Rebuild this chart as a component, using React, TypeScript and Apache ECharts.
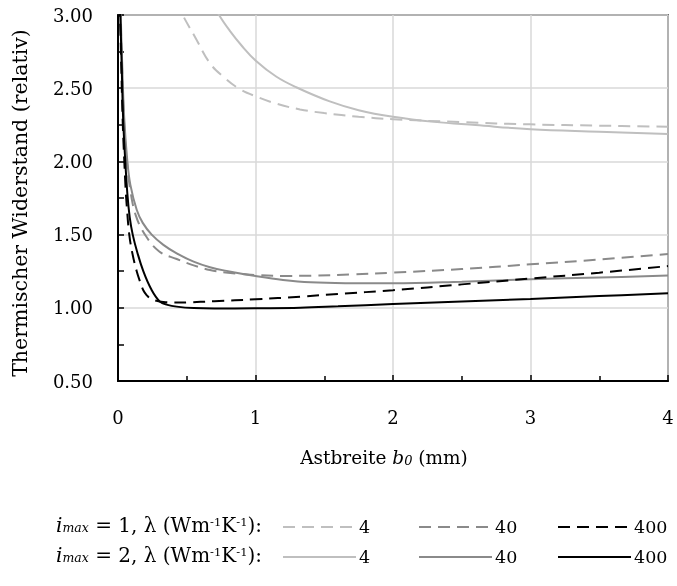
import React, { useEffect, useRef } from "react";
import * as echarts from "echarts";

const FONT = "DejaVu Serif";

// i_max = 1 (dashed)
const i1Lambda4: [number, number][] = [[0.42,3.1],[0.47,3.0],[0.56,2.85],[0.669,2.67],[0.77,2.575],[0.875,2.5],[1.0,2.445],[1.15,2.395],[1.324,2.355],[1.5,2.33],[1.75,2.305],[2.0,2.288],[2.5,2.268],[3.0,2.253],[3.5,2.244],[4.0,2.237]];
const i1Lambda40: [number, number][] = [[0.015,3.2],[0.02,2.95],[0.03,2.62],[0.045,2.25],[0.065,2.0],[0.09,1.8],[0.13,1.63],[0.196,1.5],[0.3,1.385],[0.427,1.333],[0.55,1.29],[0.669,1.258],[0.8,1.24],[1.0,1.224],[1.2,1.218],[1.4,1.219],[1.7,1.228],[2.0,1.24],[2.5,1.265],[3.0,1.297],[3.5,1.33],[4.0,1.367]];
const i1Lambda400: [number, number][] = [[0.01,3.2],[0.015,3.0],[0.025,2.6],[0.035,2.25],[0.045,2.02],[0.055,1.82],[0.065,1.68],[0.082,1.5],[0.105,1.37],[0.136,1.25],[0.16,1.18],[0.184,1.12],[0.21,1.085],[0.233,1.065],[0.28,1.048],[0.33,1.04],[0.4,1.036],[0.5,1.037],[0.7,1.045],[1.0,1.058],[1.324,1.076],[1.6,1.095],[2.0,1.12],[2.5,1.16],[3.0,1.2],[3.5,1.24],[4.0,1.285]];

// i_max = 2 (solid)
const i2Lambda4: [number, number][] = [[0.70,3.07],[0.735,3.0],[0.815,2.89],[0.9,2.79],[1.0,2.69],[1.15,2.58],[1.3,2.505],[1.54,2.41],[1.75,2.35],[2.0,2.305],[2.3,2.27],[2.6,2.248],[3.0,2.22],[3.5,2.203],[4.0,2.187]];
const i2Lambda40: [number, number][] = [[0.015,3.25],[0.02,3.0],[0.03,2.68],[0.045,2.3],[0.068,2.0],[0.09,1.84],[0.136,1.67],[0.18,1.58],[0.245,1.5],[0.33,1.43],[0.427,1.372],[0.55,1.315],[0.669,1.277],[0.8,1.25],[1.0,1.217],[1.2,1.19],[1.4,1.174],[1.7,1.168],[2.0,1.167],[2.5,1.178],[3.0,1.195],[3.5,1.207],[4.0,1.22]];
const i2Lambda400: [number, number][] = [[0.012,3.2],[0.017,3.0],[0.027,2.65],[0.037,2.3],[0.05,2.05],[0.068,1.78],[0.085,1.62],[0.107,1.5],[0.14,1.38],[0.184,1.25],[0.24,1.13],[0.305,1.042],[0.36,1.02],[0.427,1.008],[0.55,0.998],[0.7,0.995],[1.0,0.997],[1.324,1.0],[1.6,1.01],[2.0,1.026],[2.5,1.043],[3.0,1.06],[3.5,1.08],[4.0,1.1]];

const lambdaLabels = ["4", "40", "400"];
const xTicks = [0, 1, 2, 3, 4];
const yTicks = [0.5, 1.0, 1.5, 2.0, 2.5, 3.0];

const LIGHT = "#bfbfbf";
const MID = "#8a8a8a";
const DARK = "#000000";

export default function App() {
  const ref = useRef<HTMLDivElement>(null);
  useEffect(() => {
    if (!ref.current) return;
    const chart = echarts.init(ref.current, null, { renderer: "svg" });
    const mk = (name: string, data: [number, number][], color: string, dashed: boolean, z: number) => ({
      type: "line",
      name,
      data,
      smooth: 0.4,
      symbol: "none",
      clip: true,
      z,
      lineStyle: { color, width: 2, type: dashed ? [12, 7] : "solid" },
      itemStyle: { color },
    });
    const colX = [282, 418, 557];
    const rowY = [525, 555];
    const names = [
      ["i1-4", "i1-40", "i1-400"],
      ["i2-4", "i2-40", "i2-400"],
    ];
    const legends: any[] = [];
    for (let r = 0; r < 2; r++) {
      for (let c = 0; c < 3; c++) {
        legends.push({
          data: [names[r][c]],
          left: colX[c],
          top: rowY[r] - 7,
          padding: 0,
          itemWidth: 73,
          itemHeight: 14,
          selectedMode: false,
          formatter: lambdaLabels[c],
          itemStyle: { opacity: 0, borderWidth: 0 },
          textStyle: { fontFamily: FONT, fontSize: 17.5, color: "#000", padding: [0, 0, 0, -2] },
        });
      }
    }
    const rowText = (n: string) =>
      `{i|i}{s|max}{n| = ${n}, λ (Wm}{p|-1}{n|K}{p|-1}{n|):}`;
    const rich = {
      i: { fontFamily: FONT, fontSize: 20, fontStyle: "italic", color: "#000", lineHeight: 24 },
      s: { fontFamily: FONT, fontSize: 12.5, fontStyle: "italic", color: "#000", verticalAlign: "bottom", lineHeight: 24, padding: [0, 0, 3, 0] },
      n: { fontFamily: FONT, fontSize: 20, color: "#000", lineHeight: 24 },
      p: { fontFamily: FONT, fontSize: 11.5, color: "#000", verticalAlign: "top", lineHeight: 24, padding: [3, 0, 0, 0] },
    };
    chart.setOption({
      animation: false,
      grid: { left: 118, right: 9, top: 15, bottom: 205, show: true, borderColor: "#000", borderWidth: 1.5, backgroundColor: "transparent" },
      xAxis: {
        type: "value",
        min: xTicks[0],
        max: xTicks[xTicks.length - 1],
        interval: 1,
        name: "{n|Astbreite }{i|b}{s|0}{n| (mm)}",
        nameLocation: "middle",
        nameGap: 64,
        nameTextStyle: {
          padding: [0, 18, 0, 0],
          rich: { n: { ...rich.n, fontSize: 18.5 }, i: { ...rich.i, fontSize: 18.5 }, s: { ...rich.s, fontSize: 13, padding: [0, 0, 2, 0] } },
        },
        axisLine: { lineStyle: { color: "#000", width: 2 } },
        axisTick: { inside: true, length: 6, lineStyle: { color: "#000", width: 1.5 } },
        minorTick: { show: true, splitNumber: 2, length: 5, lineStyle: { color: "#000", width: 1.5 } },
        axisLabel: { fontFamily: FONT, fontSize: 18, color: "#000", margin: 27 },
        splitLine: { show: true, lineStyle: { color: "#d9d9d9", width: 1.5 } },
      },
      yAxis: {
        type: "value",
        min: yTicks[0],
        max: yTicks[yTicks.length - 1],
        interval: 0.5,
        name: "Thermischer Widerstand (relativ)",
        nameLocation: "middle",
        nameGap: 88,
        nameTextStyle: { fontFamily: FONT, fontSize: 20.5, color: "#000", padding: [0, 10, 0, 0] },
        axisLine: { show: true, lineStyle: { color: "#000", width: 2 } },
        axisTick: { show: true, inside: true, length: 6, lineStyle: { color: "#000", width: 1.5 } },
        minorTick: { show: true, splitNumber: 2, length: 6, lineStyle: { color: "#000", width: 1.5 } },
        axisLabel: { fontFamily: FONT, fontSize: 18, color: "#000", margin: 25, formatter: (v: number) => v.toFixed(2) },
        splitLine: { show: true, lineStyle: { color: "#d9d9d9", width: 1.5 } },
      },
      legend: legends,
      graphic: [
        { type: "text", style: { text: rowText("1"), rich, x: 262, y: rowY[0], align: "right", verticalAlign: "middle" } },
        { type: "text", style: { text: rowText("2"), rich, x: 262, y: rowY[1], align: "right", verticalAlign: "middle" } },
      ],
      series: [
        mk("i1-4", i1Lambda4, LIGHT, true, 2),
        mk("i2-4", i2Lambda4, LIGHT, false, 2),
        mk("i1-40", i1Lambda40, MID, true, 3),
        mk("i2-40", i2Lambda40, MID, false, 3),
        mk("i1-400", i1Lambda400, DARK, true, 4),
        mk("i2-400", i2Lambda400, DARK, false, 4),
      ],
    });
    return () => chart.dispose();
  }, []);
  return <div ref={ref} style={{ position: "fixed", left: 0, top: 0, width: 677, height: 586 }} />;
}
